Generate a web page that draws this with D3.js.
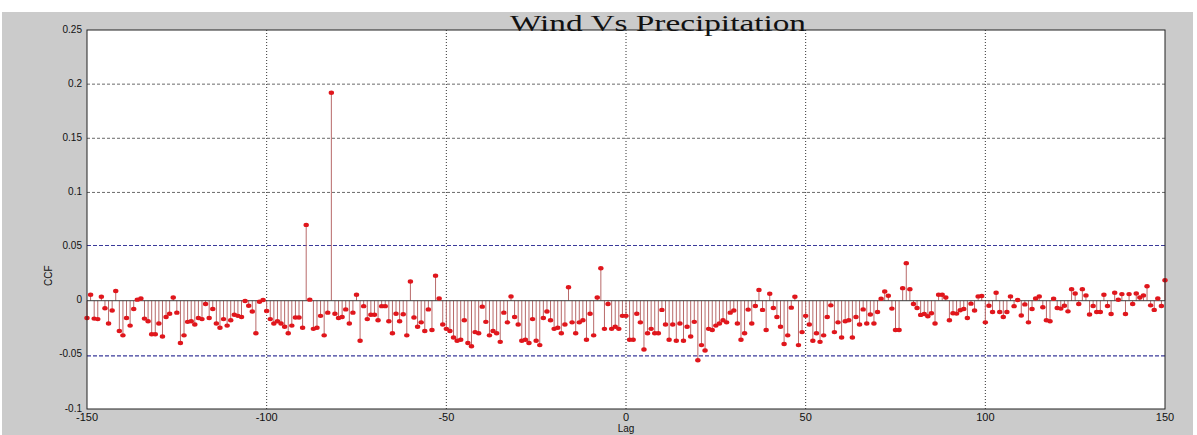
<!DOCTYPE html>
<html>
<head>
<meta charset="utf-8">
<script src="https://cdn.jsdelivr.net/npm/d3@7"></script>
<style>
  body { margin: 0; background: #ffffff; }
  svg { display: block; }
</style>
</head>
<body>
<svg id="chart" width="1197" height="435"></svg>
<script>
// Cross-correlation of wind and precipitation, lags -150..150
const chartTitle = "Wind Vs Precipitation";
const xLabel = "Lag";
const yLabel = "CCF";
const lagStart = -150;
const ccf = [
  // -150 .. -124
  -0.016, 0.0055, -0.0165, -0.017, 0.0037, -0.007, -0.021, -0.009, 0.009, -0.028,
  -0.032, -0.016, -0.023, -0.0076, 0.001, 0.002, -0.0165, -0.019, -0.031, -0.031,
  -0.021, -0.033, -0.015, -0.012, 0.003, -0.011, -0.039,
  // -123 .. -97
  -0.032, -0.0195, -0.019, -0.022, -0.016, -0.017, -0.003, -0.016, -0.0076, -0.021,
  -0.025, -0.017, -0.023, -0.018, -0.013, -0.014, -0.015, -0.0003, -0.0046, -0.010,
  -0.030, -0.001, 0.0006, -0.0095, -0.017, -0.021, -0.019,
  // -96 .. -70
  -0.021, -0.024, -0.030, -0.023, -0.0155, -0.0155, -0.025, 0.070, 0.001, -0.026,
  -0.025, -0.014, -0.032, -0.011, 0.192, -0.012, -0.016, -0.015, -0.008, -0.021,
  -0.011, 0.0055, -0.037, -0.005, -0.017, -0.013, -0.013,
  // -69 .. -43
  -0.018, -0.005, -0.005, -0.019, -0.030, -0.012, -0.019, -0.0125, -0.032, 0.0177,
  -0.0155, -0.024, -0.020, -0.028, -0.008, -0.027, 0.023, 0.002, -0.022, -0.026,
  -0.028, -0.034, -0.037, -0.036, -0.018, -0.039, -0.042,
  // -42 .. -16
  -0.029, -0.030, -0.0055, -0.0195, -0.032, -0.028, -0.030, -0.038, -0.011, -0.020,
  0.004, -0.015, -0.022, -0.037, -0.036, -0.039, -0.017, -0.037, -0.041, -0.016,
  -0.010, -0.018, -0.026, -0.025, -0.030, -0.022, 0.0125,
  // -15 .. 12
  -0.020, -0.030, -0.020, -0.018, -0.036, -0.012, -0.032, 0.003, 0.030, -0.026,
  -0.003, -0.026, -0.024, -0.026, -0.014, -0.014, -0.036, -0.036, -0.012, -0.020,
  -0.045, -0.030, -0.026, -0.030, -0.030, -0.0085, -0.022, -0.036,
  // 13 .. 39
  -0.022, -0.037, -0.021, -0.037, -0.024, -0.033, -0.0195, -0.055, -0.041, -0.046,
  -0.026, -0.027, -0.023, -0.021, -0.018, -0.020, -0.011, -0.009, -0.021, -0.036,
  -0.030, -0.0082, -0.021, -0.0049, 0.010, -0.0085, -0.027,
  // 40 .. 67
  0.0064, -0.0067, -0.015, -0.024, -0.040, -0.032, -0.0064, 0.0037, -0.041, -0.029,
  -0.014, -0.022, -0.037, -0.030, -0.038, -0.032, -0.015, -0.0043, -0.029, -0.020,
  -0.034, -0.019, -0.018, -0.034, -0.015, -0.022, -0.008, -0.021,
  // 68 .. 93
  -0.0128, -0.021, -0.0104, 0.0018, 0.0085, 0.0046, -0.0073, -0.027, -0.027, 0.0116,
  0.0347, 0.0107, -0.003, -0.0067, -0.0131, -0.0122, -0.0143, -0.0116, -0.021, 0.0055,
  0.0055, 0.003, -0.018, -0.0116, -0.0119, -0.0088,
  // 94 .. 120
  -0.0076, -0.016, -0.0027, -0.009, 0.004, 0.0043, -0.020, -0.0046, -0.0104, 0.0073,
  -0.0104, -0.015, -0.0104, 0.004, -0.005, 0.0006, -0.0137, -0.0034, -0.020, -0.0076,
  0.002, 0.004, -0.006, -0.018, -0.019, 0.0018, -0.0067,
  // 121 .. 150
  -0.0073, -0.0046, -0.0098, 0.0107, 0.0067, -0.003, 0.0107, 0.0049, -0.0128, -0.0049,
  -0.0104, -0.0104, 0.0055, -0.0049, -0.0122, 0.0073, 0.0009, 0.0061, -0.0122, 0.0061,
  -0.0030, 0.0067, 0.0030, 0.0049, 0.0134, -0.0043, -0.0085, 0.0021, -0.0049, 0.0189
];
const confBound = 0.051;
const xTicks = [-150, -100, -50, 0, 50, 100, 150];
const yTicks = [-0.1, -0.05, 0, 0.05, 0.1, 0.15, 0.2, 0.25];

const points = ccf.map((v, i) => ({ lag: lagStart + i, value: v }));

const svg = d3.select("#chart");
const W = 1197, H = 435;
const plot = { left: 87, right: 1165, top: 30, bottom: 409 };

const x = d3.scaleLinear().domain([-150, 150]).range([plot.left, plot.right]);
const y = d3.scaleLinear().domain([-0.1, 0.25]).range([plot.bottom, plot.top]);

// figure background
svg.append("rect").attr("x", 2).attr("y", 12).attr("width", W - 6).attr("height", H - 12)
  .attr("fill", "#cbcbcb");

// axes background
svg.append("rect")
  .attr("x", plot.left).attr("y", plot.top)
  .attr("width", plot.right - plot.left).attr("height", plot.bottom - plot.top)
  .attr("fill", "#ffffff");

// grid
const grid = svg.append("g");
grid.selectAll("line.vg").data(xTicks.slice(1, -1)).join("line")
  .attr("x1", d => x(d)).attr("x2", d => x(d))
  .attr("y1", plot.top).attr("y2", plot.bottom)
  .attr("stroke", "#333").attr("stroke-width", 1).attr("stroke-dasharray", "1,2");
grid.selectAll("line.hg").data(yTicks.filter(v => v > -0.1 && v < 0.25 && v !== 0 && Math.abs(v) !== 0.05)).join("line")
  .attr("x1", plot.left).attr("x2", plot.right)
  .attr("y1", d => y(d)).attr("y2", d => y(d))
  .attr("stroke", "#444").attr("stroke-width", 0.8).attr("stroke-dasharray", "3,2");

// confidence bounds
svg.selectAll("line.cb").data([confBound, -confBound]).join("line")
  .attr("x1", plot.left).attr("x2", plot.right)
  .attr("y1", d => y(d)).attr("y2", d => y(d))
  .attr("stroke", "#3a3a9a").attr("stroke-width", 1.2).attr("stroke-dasharray", "4,2");

// stems
svg.append("g").selectAll("line").data(points).join("line")
  .attr("x1", d => x(d.lag)).attr("x2", d => x(d.lag))
  .attr("y1", y(0)).attr("y2", d => y(d.value))
  .attr("stroke", "#b86a6a").attr("stroke-width", 1);

// baseline
svg.append("line")
  .attr("x1", plot.left).attr("x2", plot.right)
  .attr("y1", y(0)).attr("y2", y(0))
  .attr("stroke", "#3a3a3a").attr("stroke-width", 1);

// markers
svg.append("g").selectAll("ellipse").data(points).join("ellipse")
  .attr("cx", d => x(d.lag)).attr("cy", d => y(d.value))
  .attr("rx", 2.7).attr("ry", 2.2)
  .attr("fill", "#e0161c");

// axes box
svg.append("rect")
  .attr("x", plot.left).attr("y", plot.top)
  .attr("width", plot.right - plot.left).attr("height", plot.bottom - plot.top)
  .attr("fill", "none").attr("stroke", "#222").attr("stroke-width", 1);

// tick labels
const font = "Arial, 'Liberation Sans', sans-serif";
svg.append("g").selectAll("text").data(xTicks).join("text")
  .attr("x", d => x(d)).attr("y", plot.bottom + 12)
  .attr("text-anchor", "middle")
  .attr("font-family", font).attr("font-size", 11).attr("fill", "#111")
  .text(d => String(d));

svg.append("g").selectAll("text").data(yTicks).join("text")
  .attr("x", plot.left - 5).attr("y", d => y(d) + 2.5)
  .attr("text-anchor", "end")
  .attr("font-family", font).attr("font-size", 10).attr("fill", "#111")
  .text(d => String(d));

// axis titles
svg.append("text")
  .attr("x", x(0)).attr("y", 432)
  .attr("text-anchor", "middle")
  .attr("font-family", font).attr("font-size", 10).attr("fill", "#111")
  .text(xLabel);

svg.append("text")
  .attr("transform", `translate(52, ${y(0) - 25}) rotate(-90)`)
  .attr("text-anchor", "middle")
  .attr("font-family", font).attr("font-size", 10).attr("fill", "#111")
  .text(yLabel);

// chart title
svg.append("text")
  .attr("x", 658).attr("y", 31)
  .attr("text-anchor", "middle")
  .attr("font-family", "'Liberation Serif', 'Times New Roman', serif")
  .attr("font-size", 24).attr("fill", "#111")
  .attr("textLength", 296).attr("lengthAdjust", "spacingAndGlyphs")
  .text(chartTitle);
</script>
</body>
</html>
